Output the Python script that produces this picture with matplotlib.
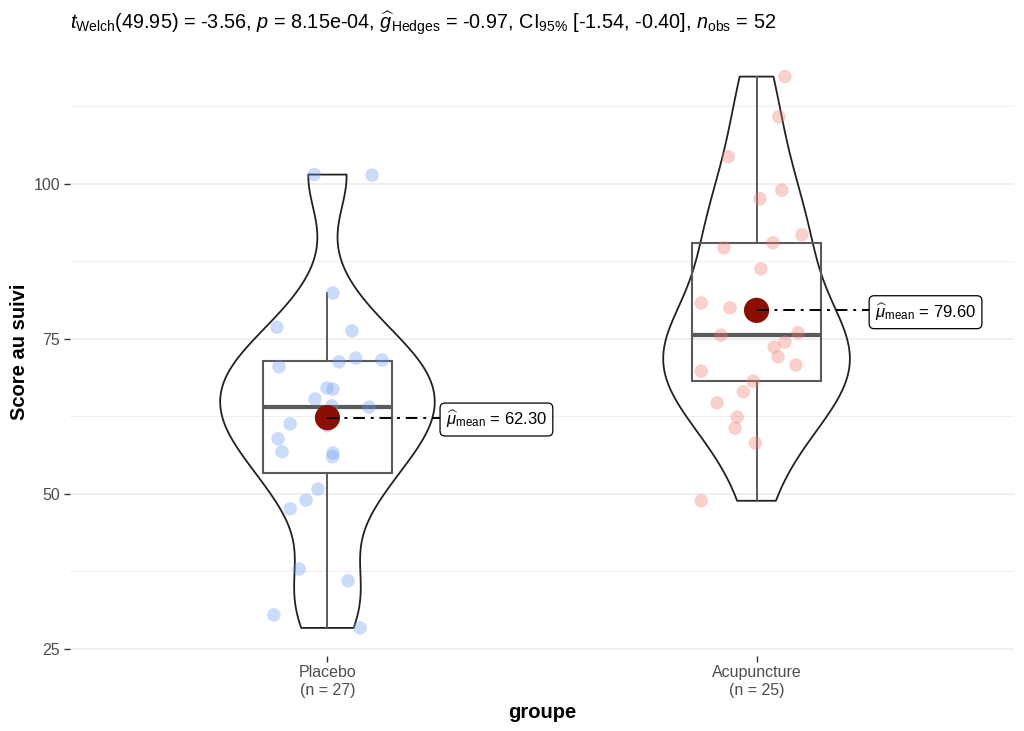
import numpy as np
import matplotlib
matplotlib.use("Agg")
import matplotlib.pyplot as plt

# ---------------- data ----------------
groups = ["Placebo", "Acupuncture"]
placebo = [101.5, 101.4, 82.4, 76.9, 76.3, 70.5, 71.3, 71.9, 71.6, 67.1, 66.9, 65.3, 64.2, 64.0,
           61.0, 61.3, 58.9, 56.8, 56.6, 56.0, 50.8, 49.0, 47.6, 37.9, 36.0, 30.5, 28.4]
placebo_jitter = [-0.031, 0.104, 0.013, -0.118, 0.057, -0.113, 0.027, 0.066, 0.127, -0.001, 0.013,
                  -0.029, 0.010, 0.097, 0.0, -0.087, -0.115, -0.106, 0.013, 0.012, -0.022, -0.050,
                  -0.087, -0.066, 0.048, -0.125, 0.076]
acupuncture = [117.3, 110.8, 104.4, 99.0, 97.6, 91.8, 90.5, 89.7, 86.3, 80.8, 80.0, 75.6, 76.0,
               74.5, 73.7, 72.1, 70.8, 69.8, 68.2, 66.5, 64.7, 62.4, 60.6, 58.2, 48.9]
acupuncture_jitter = [0.066, 0.052, -0.066, 0.059, 0.008, 0.106, 0.038, -0.076, 0.010, -0.129,
                      -0.062, -0.083, 0.097, 0.066, 0.041, 0.050, 0.092, -0.129, -0.008, -0.031,
                      -0.092, -0.045, -0.050, -0.003, -0.129]
mean_labels = ["62.30", "79.60"]
title_text = (r"$t_{\mathrm{Welch}}$(49.95) = -3.56, $p$ = 8.15e-04, "
              r"$\widehat{g}_{\mathrm{Hedges}}$ = -0.97, CI$_{95\%}$ [-1.54, -0.40], "
              r"$n_{\mathrm{obs}}$ = 52")
y_ticks = [25, 50, 75, 100]
y_minor = [37.5, 62.5, 87.5, 112.5]

plt.rcParams["font.family"] = ["Liberation Sans", "DejaVu Sans"]
plt.rcParams["mathtext.fontset"] = "custom"
plt.rcParams["mathtext.rm"] = "Liberation Sans"
plt.rcParams["mathtext.it"] = "Liberation Sans:italic"
plt.rcParams["mathtext.bf"] = "Liberation Sans:bold"

data = [np.array(placebo), np.array(acupuncture)]
jit = [np.array(placebo_jitter), np.array(acupuncture_jitter)]
positions = [1, 2]
point_colors = ["#6A9BF5", "#F27A72"]

fig = plt.figure(figsize=(10.24, 7.31), dpi=100)
ax = fig.add_axes([70 / 1024, (731 - 655.5) / 731, (1014 - 70) / 1024, (655.5 - 49) / 731])

# grid
for y in y_ticks:
    ax.axhline(y, color="#EBEBEB", lw=1.1, zorder=0)
for y in y_minor:
    ax.axhline(y, color="#EBEBEB", lw=0.6, zorder=0)


def nrd0_factor(x):
    sd = np.std(x, ddof=1)
    q75, q25 = np.percentile(x, [75, 25])
    bw = 0.9 * min(sd, (q75 - q25) / 1.34) * len(x) ** (-0.2)
    return bw / sd


# violins
for d, p, w in zip(data, positions, [0.5, 0.435]):
    vp = ax.violinplot([d], positions=[p], widths=w, showextrema=False,
                       bw_method=nrd0_factor(d), points=300)
    for b in vp["bodies"]:
        b.set_facecolor("none")
        b.set_edgecolor("#222222")
        b.set_linewidth(1.3)
        b.set_alpha(1)
        b.set_zorder(2)

# boxplots
ax.boxplot(data, positions=positions, widths=0.3, showfliers=False, showcaps=False,
           patch_artist=True,
           boxprops=dict(facecolor="none", edgecolor="#5A5A5A", linewidth=1.5),
           whiskerprops=dict(color="#5A5A5A", linewidth=1.4),
           medianprops=dict(color="#5A5A5A", linewidth=3.0),
           zorder=3)

# jittered points
for d, j, p, c in zip(data, jit, positions, point_colors):
    ax.scatter(p + j, d, s=95, color=c, alpha=0.35, edgecolors="none", zorder=4)

# means
for d, p, lab in zip(data, positions, mean_labels):
    m = d.mean()
    ax.scatter([p], [m], s=330, color="#8B0F00", edgecolors="none", zorder=5)
    ax.plot([p, p + 0.27], [m, m], color="black", lw=1.4, ls=(0, (6, 3, 1.5, 3)), zorder=5)
    ax.text(p + 0.276, m - 0.3, r"$\widehat{\mu}_{\mathrm{mean}}$ = " + lab, ha="left",
            va="center", fontsize=12, zorder=6,
            bbox=dict(boxstyle="round,pad=0.35,rounding_size=0.3", fc="white", ec="black", lw=0.9))

ax.set_xlim(0.4, 2.6)
ax.set_ylim(23.95, 121.75)
ax.set_yticks(y_ticks)
ax.set_yticklabels([str(v) for v in y_ticks])
ax.set_xticks(positions)
ax.set_xticklabels([f"{g}\n(n = {len(d)})" for g, d in zip(groups, data)])
ax.tick_params(axis="both", colors="#333333", labelcolor="#4D4D4D", labelsize=11.5,
               length=4, width=1)
ax.tick_params(axis="x", pad=3)
ax.tick_params(axis="y", pad=3)
for s in ax.spines.values():
    s.set_visible(False)

ax.set_xlabel("groupe", fontsize=14.5, fontweight="bold", labelpad=4)
ax.set_ylabel("Score au suivi", fontsize=14.5, fontweight="bold", labelpad=3)
fig.text(70 / 1024, 1 - 23 / 731, title_text, ha="left", va="center", fontsize=14.3)

fig.savefig("out.png", dpi=100)
